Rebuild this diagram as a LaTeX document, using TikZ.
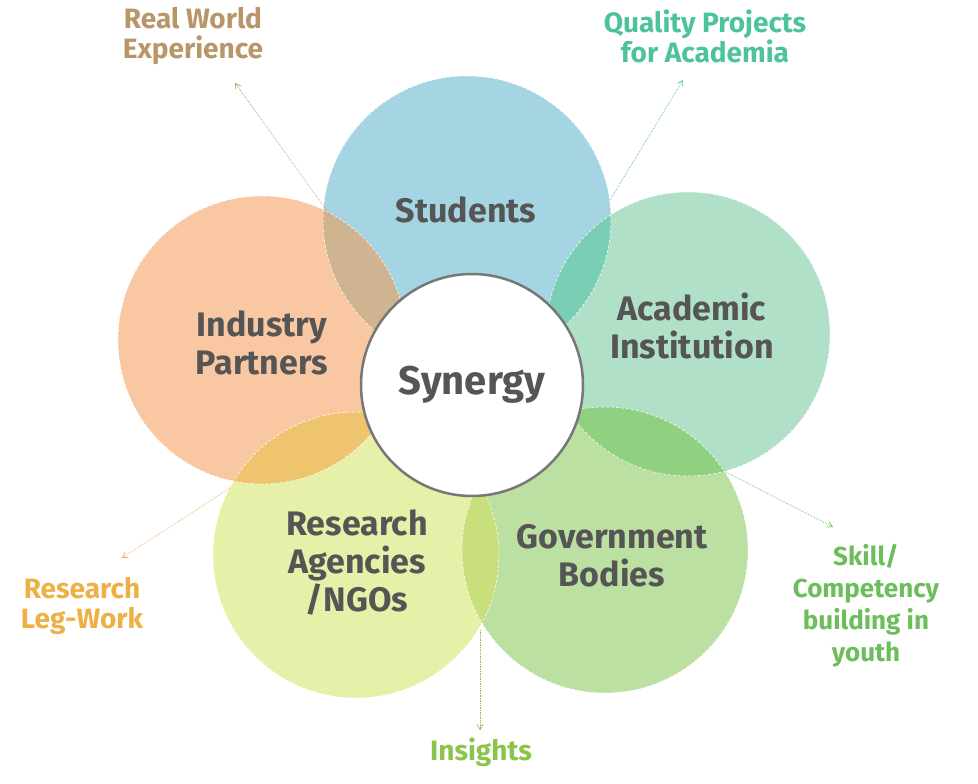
\documentclass[tikz,border=0pt]{standalone}
\usepackage{fontspec}
\setmainfont{Fira Sans}
\usetikzlibrary{arrows.meta}
\definecolor{cS}{HTML}{A5D5E3}\definecolor{cA}{HTML}{B1E0C8}\definecolor{cI}{HTML}{F9C8A2}
\definecolor{cR}{HTML}{E7F0A8}\definecolor{cG}{HTML}{BBE0A2}
\definecolor{oSI}{HTML}{CFB491}\definecolor{oSA}{HTML}{7ACEB6}\definecolor{oIR}{HTML}{EEC56E}
\definecolor{oAG}{HTML}{8FD181}\definecolor{oRG}{HTML}{C9DF7B}
\definecolor{tx}{HTML}{555555}
\definecolor{lRW}{HTML}{B8966A}\definecolor{lQP}{HTML}{4DC39B}\definecolor{lRL}{HTML}{EDB046}
\definecolor{lSK}{HTML}{6CBE5C}\definecolor{lIN}{HTML}{8CC44B}
\tikzset{x=1pt,y=-1pt,
 main/.style={font=\bfseries\fontsize{34}{38}\selectfont,text=tx,align=center},
 lab/.style={font=\bfseries\fontsize{28}{30}\selectfont,align=center},
 ptr/.style={densely dotted,line width=0.7pt,-{Straight Barb[length=5pt,width=6pt]}}}
\begin{document}
\begin{tikzpicture}
\useasboundingbox (0,0) rectangle (978,784);
\def\cSt{(467,220) circle (144)}
\def\cAc{(688,334) circle (142)}
\def\cIn{(262,340) circle (144)}
\def\cRe{(356,555) circle (143)}
\def\cGo{(605,550) circle (143)}
\fill[cS] \cSt; \fill[cA] \cAc; \fill[cI] \cIn; \fill[cR] \cRe; \fill[cG] \cGo;
\begin{scope}\clip \cSt; \fill[oSI] \cIn; \fill[oSA] \cAc; \end{scope}
\begin{scope}\clip \cIn; \fill[oIR] \cRe; \end{scope}
\begin{scope}\clip \cAc; \fill[oAG] \cGo; \end{scope}
\begin{scope}\clip \cRe; \fill[oRG] \cGo; \end{scope}
\draw[white,densely dashed,line width=0.5pt] \cSt \cAc \cIn \cRe \cGo;
\node[circle,fill=white,draw=tx!80,line width=2.5pt,minimum size=222pt] (syn) at (472,385) {};
\node[main,font=\bfseries\fontsize{40}{44}\selectfont] at (syn) {Synergy};
\node[main] (st) at (466,210) {Students};
\node[main] (ac) at (692,326) {Academic\\Institution};
\node[main] (ip) at (262,343) {Industry\\Partners};
\node[main] (ra) at (357,563) {Research\\Agencies\\/NGOs};
\node[main] (gb) at (612,556) {Government\\Bodies};
\node[lab,text=lRW] (rw) at (193,36) {Real World\\Experience};
\node[lab,text=lQP] (qp) at (705,36) {Quality Projects\\for Academia};
\node[lab,text=lRL] (rl) at (82,606) {Research\\Leg-Work};
\node[lab,text=lSK,font=\bfseries\fontsize{26}{32}\selectfont] (sk) at (866,606) {Skill/\\Competency\\building in\\youth};
\node[lab,text=lIN] (in) at (481,752) {Insights};
\coordinate (a1) at (330,215); \coordinate (b1) at (235,83);
\coordinate (a2) at (610,200); \coordinate (b2) at (683,80);
\coordinate (a3) at (230,488); \coordinate (b3) at (122,558);
\coordinate (a4) at (722,470); \coordinate (b4) at (833,527);
\coordinate (a5) at (480,630); \coordinate (b5) at (480,730);
\draw[ptr,lRW] (a1) -- (b1);
\draw[ptr,lQP] (a2) -- (b2);
\draw[ptr,lRL] (a3) -- (b3);
\draw[ptr,lSK] (a4) -- (b4);
\draw[ptr,lIN] (a5) -- (b5);
\end{tikzpicture}
\end{document}
